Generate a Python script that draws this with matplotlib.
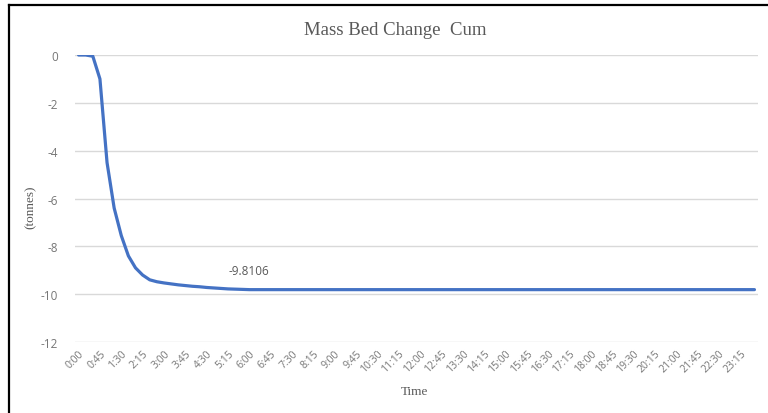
import numpy as np
import matplotlib
matplotlib.use('Agg')
from matplotlib import pyplot as plt
from matplotlib.lines import Line2D

plt.rcParams['axes.unicode_minus'] = False

# 15-minute steps over the day
times = [f'{m // 60}:{m % 60:02d}' for m in range(0, 24 * 60, 15)]

head = [0.0, 0.0, -0.05, -1.0, -4.5, -6.4, -7.55, -8.4, -8.9, -9.2,
        -9.4, -9.48, -9.53, -9.57, -9.61, -9.64, -9.67, -9.69, -9.72, -9.74,
        -9.76, -9.78, -9.79, -9.80]
plateau = -9.8106
mass = head + [plateau] * (len(times) - len(head))
label_idx = 24

gray = '#595959'
tick_gray = '#767676'

fig = plt.figure(figsize=(7.68, 4.14), dpi=100)
ax = fig.add_axes([0.0977, 0.1715, 0.8893, 0.6932])

x = np.arange(len(times))
ax.plot(x, mass, color='#4472C4', lw=2.3, solid_capstyle='round', zorder=3)
ax.annotate(f'{mass[label_idx]:.4f}', (x[label_idx], mass[label_idx]),
            xytext=(0, 9), textcoords='offset points', ha='center', va='bottom',
            fontsize=8.5, color=gray, family='Open Sans')

ax.set_xlim(-0.5, len(times) - 0.5)
ax.set_ylim(-12, 0)
ax.set_yticks(np.arange(-12, 1, 2))
ax.yaxis.grid(True, color='#D9D9D9', lw=1)
ax.set_axisbelow(True)
for s in ax.spines.values():
    s.set_visible(False)
ax.tick_params(length=0, colors=tick_gray)

ax.set_xticks(x[::3])
ax.set_xticklabels(times[::3], rotation=45, ha='right', rotation_mode='anchor',
                   fontsize=7.5, family='Open Sans')
for t in ax.get_yticklabels():
    t.set_family('Open Sans')
    t.set_fontsize(8.5)
ax.tick_params(axis='y', pad=12)
ax.tick_params(axis='x', pad=4)

fig.text(0.515, 0.927, 'Mass Bed Change  Cum', ha='center', va='center',
         fontsize=13.5, family='Liberation Serif', color=gray)
fig.text(0.54, 0.052, 'Time', ha='center', va='center',
         fontsize=9.5, family='Liberation Serif', color=gray)
fig.text(0.04, 0.5, '(tonnes)', ha='center', va='center', rotation=90,
         fontsize=9.5, family='Liberation Serif', color=gray)

# frame lines on left and top like the screenshot
fig.add_artist(Line2D([9 / 768, 9 / 768], [0, 1 - 6 / 414], color='black', lw=1.6))
fig.add_artist(Line2D([9 / 768, 1], [1 - 6 / 414, 1 - 6 / 414], color='black', lw=1.6))

fig.savefig('out.png', dpi=100)
